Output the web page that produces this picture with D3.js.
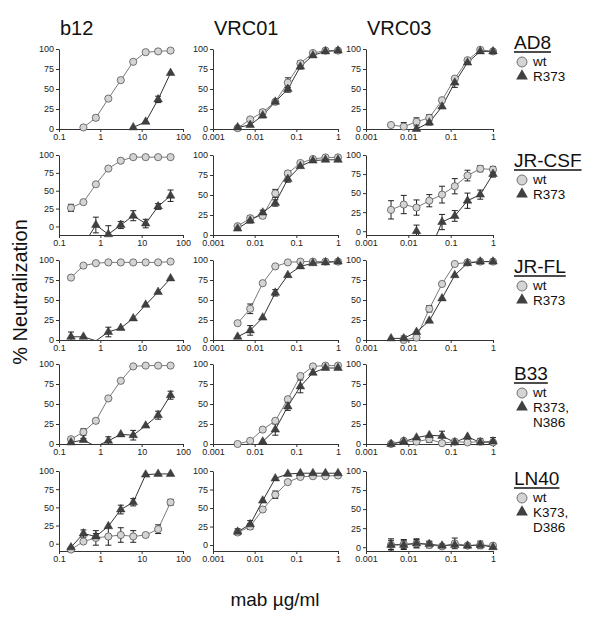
<!DOCTYPE html>
<html><head><meta charset="utf-8">
<script src="https://cdn.jsdelivr.net/npm/d3@7"></script>
<style>body{margin:0;background:#fff}text{font-family:Arial,"Liberation Sans",sans-serif}</style>
</head><body><svg id="c" width="600" height="624"></svg>
<script>
// ---------- categories / ticks ----------
const mabs = ["b12", "VRC01", "VRC03"];
const strains = ["AD8", "JR-CSF", "JR-FL", "B33", "LN40"];
const mutantLabels = [["R373"], ["R373"], ["R373"], ["R373,", "N386"], ["K373,", "D386"]];
const b12Conc = [0.195, 0.39, 0.78, 1.5625, 3.125, 6.25, 12.5, 25, 50];
const vrcConc = [0.0039, 0.0078, 0.0156, 0.03125, 0.0625, 0.125, 0.25, 0.5, 1];
const yTicks = [0, 25, 50, 75, 100];
const b12Ticks = [0.1, 1, 10, 100];
const b12TickLabels = ["0.1", "1", "10", "100"];
const vrcTicks = [0.001, 0.01, 0.1, 1];
const vrcTickLabels = ["0.001", "0.01", "0.1", "1"];
const yMinByPanel = [
  [0, 0, 0],
  [-12, 0, -5],
  [0, 0, 0],
  [0, 0, 0],
  [-10, -8, -5]
];

// ---------- series values (% neutralization) ----------
// AD8
const AD8_b12_wt      = [null, 2, 14, 38, 61, 84, 96, 97, 98];
const AD8_b12_wtErr   = [0, 0, 3, 0, 0, 0, 0, 0, 0];
const AD8_b12_mut     = [null, null, null, null, null, 2, 9, 37, 70];
const AD8_b12_mutErr  = [0, 0, 0, 0, 0, 0, 0, 4, 0];
const AD8_VRC01_wt    = [1, 12, 21, 34, 58, 82, 95, 98, 98];
const AD8_VRC01_wtErr = [0, 0, 3, 0, 6, 3, 0, 0, 0];
const AD8_VRC01_mut   = [2, 5, 17, 34, 50, 78, 92, 97, 98];
const AD8_VRC01_mutErr= [0, 0, 3, 0, 4, 3, 0, 0, 0];
const AD8_VRC03_wt    = [5, 3, 9, 14, 36, 63, 86, 99, 97];
const AD8_VRC03_wtErr = [0, 5, 5, 4, 0, 0, 0, 0, 0];
const AD8_VRC03_mut   = [null, null, 0, 8, 28, 58, 83, 97, 97];
const AD8_VRC03_mutErr= [0, 0, 0, 3, 0, 6, 0, 0, 0];
// JR-CSF
const JRCSF_b12_wt      = [26, 34, 59, 81, 92, 97, 97, 97, 97];
const JRCSF_b12_wtErr   = [5, 0, 0, 0, 0, 0, 0, 0, 0];
const JRCSF_b12_mut     = [null, -26, 2, -11, 2, 15, 4, 28, 43];
const JRCSF_b12_mutErr  = [0, 0, 11, 12, 5, 7, 6, 4, 8];
const JRCSF_VRC01_wt    = [11, 21, 24, 52, 77, 90, 95, 97, 97];
const JRCSF_VRC01_wtErr = [0, 3, 3, 5, 3, 0, 0, 0, 0];
const JRCSF_VRC01_mut   = [8, 18, 28, 40, 70, 86, 93, 94, 94];
const JRCSF_VRC01_mutErr= [0, 3, 3, 4, 4, 0, 0, 0, 0];
const JRCSF_VRC03_wt    = [28, 35, 31, 40, 48, 59, 73, 82, 81];
const JRCSF_VRC03_wtErr = [12, 12, 10, 8, 11, 10, 7, 4, 4];
const JRCSF_VRC03_mut   = [null, null, 0, -28, 12, 20, 40, 48, 75];
const JRCSF_VRC03_mutErr= [0, 0, 8, 0, 10, 7, 10, 6, 4];
// JR-FL
const JRFL_b12_wt      = [78, 93, 96, 97, 97, 97, 97, 97, 98];
const JRFL_b12_wtErr   = [0, 0, 0, 0, 0, 0, 0, 0, 0];
const JRFL_b12_mut     = [4, 4, -1, 10, 15, 27, 44, 60, 77];
const JRFL_b12_mutErr  = [6, 0, 0, 6, 0, 0, 0, 0, 0];
const JRFL_VRC01_wt    = [21, 39, 71, 92, 97, 98, 98, 98, 98];
const JRFL_VRC01_wtErr = [0, 6, 0, 0, 0, 0, 0, 0, 0];
const JRFL_VRC01_mut   = [4, 12, 28, 59, 81, 92, 96, 97, 98];
const JRFL_VRC01_mutErr= [0, 6, 0, 4, 0, 0, 0, 0, 0];
const JRFL_VRC03_wt    = [null, 0, 3, 39, 70, 95, 97, 98, 98];
const JRFL_VRC03_wtErr = [0, 3, 0, 4, 0, 0, 0, 0, 0];
const JRFL_VRC03_mut   = [2, 2, 10, 24, 52, 81, 96, 98, 98];
const JRFL_VRC03_mutErr= [0, 3, 0, 0, 0, 0, 0, 0, 0];
// B33
const B33_b12_wt      = [6, 15, 29, 57, 79, 97, 98, 98, 98];
const B33_b12_wtErr   = [0, 4, 3, 0, 0, 0, 0, 0, 0];
const B33_b12_mut     = [2, 5, -3, 4, 12, 11, 23, 36, 61];
const B33_b12_mutErr  = [0, 2, 0, 5, 0, 6, 0, 5, 5];
const B33_VRC01_wt    = [0, 4, 18, 29, 56, 85, 97, 98, 98];
const B33_VRC01_wtErr = [0, 0, 0, 0, 0, 0, 0, 0, 0];
const B33_VRC01_mut   = [null, null, 3, 18, 47, 72, 89, 95, 95];
const B33_VRC01_mutErr= [0, 0, 0, 7, 5, 8, 0, 0, 0];
const B33_VRC03_wt    = [0, 4, 3, 6, 1, 3, 2, 3, 2];
const B33_VRC03_wtErr = [0, 0, 0, 4, 0, 0, 0, 0, 0];
const B33_VRC03_mut   = [0, 3, 8, 11, 10, 2, 9, 2, 3];
const B33_VRC03_mutErr= [0, 0, 0, 0, 6, 0, 0, 5, 5];
// LN40
const LN40_b12_wt      = [-8, 3, 8, 10, 12, 10, 12, 20, 57];
const LN40_b12_wtErr   = [0, 0, 10, 12, 10, 8, 0, 6, 4];
const LN40_b12_mut     = [-5, 14, 10, 24, 47, 57, 95, 96, 96];
const LN40_b12_mutErr  = [0, 5, 4, 0, 6, 5, 0, 0, 0];
const LN40_VRC01_wt    = [17, 25, 48, 68, 85, 92, 93, 93, 94];
const LN40_VRC01_wtErr = [0, 4, 0, 5, 0, 0, 0, 0, 0];
const LN40_VRC01_mut   = [18, 28, 60, 90, 96, 97, 97, 97, 97];
const LN40_VRC01_mutErr= [4, 5, 0, 0, 0, 0, 0, 0, 0];
const LN40_VRC03_wt    = [3, 4, 5, 3, 1, 5, 2, 3, 2];
const LN40_VRC03_wtErr = [6, 6, 5, 4, 0, 7, 0, 0, 0];
const LN40_VRC03_mut   = [3, 3, 5, 4, 2, 3, 2, 3, 0];
const LN40_VRC03_mutErr= [8, 6, 6, 4, 0, 0, 0, 5, 0];

const seriesGrid = [
  [[AD8_b12_wt, AD8_b12_wtErr, AD8_b12_mut, AD8_b12_mutErr],
   [AD8_VRC01_wt, AD8_VRC01_wtErr, AD8_VRC01_mut, AD8_VRC01_mutErr],
   [AD8_VRC03_wt, AD8_VRC03_wtErr, AD8_VRC03_mut, AD8_VRC03_mutErr]],
  [[JRCSF_b12_wt, JRCSF_b12_wtErr, JRCSF_b12_mut, JRCSF_b12_mutErr],
   [JRCSF_VRC01_wt, JRCSF_VRC01_wtErr, JRCSF_VRC01_mut, JRCSF_VRC01_mutErr],
   [JRCSF_VRC03_wt, JRCSF_VRC03_wtErr, JRCSF_VRC03_mut, JRCSF_VRC03_mutErr]],
  [[JRFL_b12_wt, JRFL_b12_wtErr, JRFL_b12_mut, JRFL_b12_mutErr],
   [JRFL_VRC01_wt, JRFL_VRC01_wtErr, JRFL_VRC01_mut, JRFL_VRC01_mutErr],
   [JRFL_VRC03_wt, JRFL_VRC03_wtErr, JRFL_VRC03_mut, JRFL_VRC03_mutErr]],
  [[B33_b12_wt, B33_b12_wtErr, B33_b12_mut, B33_b12_mutErr],
   [B33_VRC01_wt, B33_VRC01_wtErr, B33_VRC01_mut, B33_VRC01_mutErr],
   [B33_VRC03_wt, B33_VRC03_wtErr, B33_VRC03_mut, B33_VRC03_mutErr]],
  [[LN40_b12_wt, LN40_b12_wtErr, LN40_b12_mut, LN40_b12_mutErr],
   [LN40_VRC01_wt, LN40_VRC01_wtErr, LN40_VRC01_mut, LN40_VRC01_mutErr],
   [LN40_VRC03_wt, LN40_VRC03_wtErr, LN40_VRC03_mut, LN40_VRC03_mutErr]]
];

// ---------- layout ----------
const colLeft = [59, 213, 366];
const colWidth = [124, 125, 127];
const rowTop = [49, 155, 260, 364, 471];
const plotH = 80;
const legendBase = [49, 167, 273, 380, 485];
const legendX = 514;

const svg = d3.select("#c");
const defs = svg.append("defs");
const AXIS = "#333";
const WT_LINE = "#7a7a7a", MUT_LINE = "#333";
const WT_FILL = "#d4d4d4", WT_STROKE = "#555", MUT_FILL = "#404040";

// column titles
mabs.forEach((m, c) => {
  svg.append("text").attr("x", colLeft[c] + 1).attr("y", 35)
    .attr("font-size", 20).attr("fill", "#111").text(m);
});

// axis titles
svg.append("text").attr("transform", "translate(27,292) rotate(-90)")
  .attr("text-anchor", "middle").attr("font-size", 20).attr("fill", "#111")
  .text("% Neutralization");
svg.append("text").attr("x", 275).attr("y", 606).attr("text-anchor", "middle")
  .attr("font-size", 19).attr("fill", "#111").text("mab \u00b5g/ml");

const tri = (s) => d3.symbol(d3.symbolTriangle, s)();

seriesGrid.forEach((row, r) => {
  row.forEach((ser, c) => {
    const [wt, wtErr, mut, mutErr] = ser;
    const conc = c === 0 ? b12Conc : vrcConc;
    const ymin = yMinByPanel[r][c];
    const left = colLeft[c], w = colWidth[c], top = rowTop[r];
    const x = d3.scaleLog().domain(c === 0 ? [0.1, 100] : [0.001, 1]).range([left, left + w]);
    const y = d3.scaleLinear().domain([ymin, 100]).range([top + plotH, top]);
    const bottom = y(ymin);
    const g = svg.append("g");

    const cid = `clip${r}${c}`;
    defs.append("clipPath").attr("id", cid).append("rect")
      .attr("x", left - 5).attr("y", top - 20).attr("width", w + 10).attr("height", bottom - top + 20);

    // axes
    const ya = d3.axisLeft(y).tickValues(yTicks).tickSize(3).tickSizeOuter(0).tickPadding(2);
    const yg = g.append("g").attr("transform", `translate(${left},0)`).call(ya);
    const xa = d3.axisBottom(x).tickValues(c === 0 ? b12Ticks : vrcTicks)
      .tickFormat((d, i) => (c === 0 ? b12TickLabels : vrcTickLabels)[i])
      .tickSize(3).tickSizeOuter(0).tickPadding(2);
    const xg = g.append("g").attr("transform", `translate(0,${bottom})`).call(xa);
    [yg, xg].forEach(a => {
      a.selectAll("path,line").attr("stroke", AXIS).attr("stroke-width", 1);
      a.selectAll("text").attr("font-size", 9).attr("fill", "#222")
        .attr("font-family", "Arial, 'Liberation Sans', sans-serif");
    });

    const mk = (vals, errs) => conc.map((cx, i) => ({ x: cx, v: vals[i], e: errs[i] })).filter(d => d.v !== null);
    const wtD = mk(wt, wtErr), mutD = mk(mut, mutErr);
    const line = d3.line().x(d => x(d.x)).y(d => y(d.v));
    const clipG = g.append("g").attr("clip-path", `url(#${cid})`);

    [[wtD, WT_LINE], [mutD, MUT_LINE]].forEach(([data, col]) => {
      clipG.append("path").datum(data).attr("d", line).attr("fill", "none")
        .attr("stroke", col).attr("stroke-width", 1);
      const eb = clipG.selectAll(null).data(data.filter(d => d.e > 0)).enter().append("g");
      eb.append("line").attr("x1", d => x(d.x)).attr("x2", d => x(d.x))
        .attr("y1", d => y(d.v - d.e)).attr("y2", d => y(d.v + d.e));
      eb.append("line").attr("x1", d => x(d.x) - 3).attr("x2", d => x(d.x) + 3)
        .attr("y1", d => y(d.v + d.e)).attr("y2", d => y(d.v + d.e));
      eb.append("line").attr("x1", d => x(d.x) - 3).attr("x2", d => x(d.x) + 3)
        .attr("y1", d => y(d.v - d.e)).attr("y2", d => y(d.v - d.e));
      eb.selectAll("line").attr("stroke", "#222").attr("stroke-width", 1);
    });

    g.selectAll(null).data(wtD.filter(d => d.v >= ymin)).enter().append("circle")
      .attr("cx", d => x(d.x)).attr("cy", d => y(d.v)).attr("r", 3.6)
      .attr("fill", WT_FILL).attr("stroke", WT_STROKE).attr("stroke-width", 0.8);
    g.selectAll(null).data(mutD.filter(d => d.v >= ymin)).enter().append("path")
      .attr("d", tri(32)).attr("transform", d => `translate(${x(d.x)},${y(d.v)})`)
      .attr("fill", MUT_FILL).attr("stroke", "#333").attr("stroke-width", 0.5);
  });
});

// legends
strains.forEach((s, r) => {
  const b = legendBase[r];
  const t = svg.append("text").attr("x", legendX).attr("y", b).attr("font-size", 19)
    .attr("fill", "#111").text(s);
  const tw = t.node().getComputedTextLength();
  svg.append("line").attr("x1", legendX).attr("x2", legendX + tw)
    .attr("y1", b + 3).attr("y2", b + 3).attr("stroke", "#111").attr("stroke-width", 1.6);
  svg.append("circle").attr("cx", legendX + 8).attr("cy", b + 13).attr("r", 5)
    .attr("fill", WT_FILL).attr("stroke", WT_STROKE).attr("stroke-width", 0.8);
  svg.append("text").attr("x", legendX + 19).attr("y", b + 17).attr("font-size", 13.5)
    .attr("fill", "#111").text("wt");
  svg.append("path").attr("d", tri(60)).attr("transform", `translate(${legendX + 8},${b + 27})`)
    .attr("fill", MUT_FILL);
  mutantLabels[r].forEach((lab, k) => {
    svg.append("text").attr("x", legendX + 19).attr("y", b + 32 + k * 15).attr("font-size", 13.5)
      .attr("fill", "#111").text(lab);
  });
});
</script>
</body></html>
